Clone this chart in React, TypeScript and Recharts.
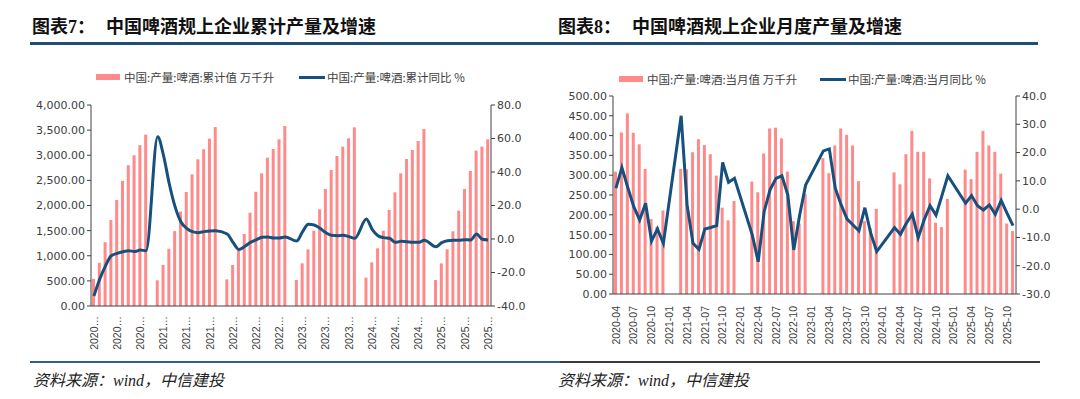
import { ComposedChart, Bar, Line, XAxis, YAxis } from "recharts";

// 累计：2020-03 ~ 2025-11
const cumMonths = [
  "2020-03", "2020-04", "2020-05", "2020-06", "2020-07", "2020-08", "2020-09", "2020-10", "2020-11", "2020-12",
  "2021-01", "2021-02", "2021-03", "2021-04", "2021-05", "2021-06", "2021-07", "2021-08", "2021-09", "2021-10", "2021-11", "2021-12",
  "2022-01", "2022-02", "2022-03", "2022-04", "2022-05", "2022-06", "2022-07", "2022-08", "2022-09", "2022-10", "2022-11", "2022-12",
  "2023-01", "2023-02", "2023-03", "2023-04", "2023-05", "2023-06", "2023-07", "2023-08", "2023-09", "2023-10", "2023-11", "2023-12",
  "2024-01", "2024-02", "2024-03", "2024-04", "2024-05", "2024-06", "2024-07", "2024-08", "2024-09", "2024-10", "2024-11", "2024-12",
  "2025-01", "2025-02", "2025-03", "2025-04", "2025-05", "2025-06", "2025-07", "2025-08", "2025-09", "2025-10", "2025-11",
];

const cumValue = [
  540, 860, 1270, 1710, 2110, 2490, 2800, 3000, 3200, 3410,
  null, 510, 820, 1140, 1490, 1880, 2270, 2620, 2920, 3120, 3330, 3560,
  null, 530, 816, 1120, 1433, 1857, 2275, 2640, 2952, 3124, 3317, 3582,
  null, 517, 849, 1128, 1499, 1924, 2328, 2706, 2985, 3171, 3337, 3555,
  null, 564, 869, 1148, 1499, 1910, 2262, 2640, 2925, 3104, 3283, 3522,
  null, 517, 849, 1128, 1486, 1897, 2328, 2687, 3091, 3171, 3317,
];

const cumYoy = [
  -34, -24, -16, -10, -8.6, -7.6, -7.0, -7.5, -6.6, -7.0,
  null, 61.1, 50, 33, 19.3, 10.3, 6.4, 4.4, 3.8, 4.4, 4.8, 5.0,
  null, 3.0, -2.0, -6.2, -4.5, -2.0, -0.5, 1.0, 1.2, 0.6, 0.6, 1.2,
  null, -1.2, 4.4, 8.8, 8.4, 6.4, 3.8, 2.2, 2.0, 2.2, 1.4, 0.4,
  null, 11.9, 5.8, 2.0, 0.8, 0.4, -2.0, -1.4, -1.6, -2.0, -2.0, -0.8,
  null, -4.6, -2.2, -1.0, -0.8, -0.8, -0.4, -0.6, 3.0, -0.2, -0.6,
];

// 当月：2020-04 ~ 2025-11
const monMonths = [
  "2020-04", "2020-05", "2020-06", "2020-07", "2020-08", "2020-09", "2020-10", "2020-11", "2020-12",
  "2021-01", "2021-02", "2021-03", "2021-04", "2021-05", "2021-06", "2021-07", "2021-08", "2021-09", "2021-10", "2021-11", "2021-12",
  "2022-01", "2022-02", "2022-03", "2022-04", "2022-05", "2022-06", "2022-07", "2022-08", "2022-09", "2022-10", "2022-11", "2022-12",
  "2023-01", "2023-02", "2023-03", "2023-04", "2023-05", "2023-06", "2023-07", "2023-08", "2023-09", "2023-10", "2023-11", "2023-12",
  "2024-01", "2024-02", "2024-03", "2024-04", "2024-05", "2024-06", "2024-07", "2024-08", "2024-09", "2024-10", "2024-11", "2024-12",
  "2025-01", "2025-02", "2025-03", "2025-04", "2025-05", "2025-06", "2025-07", "2025-08", "2025-09", "2025-10", "2025-11",
];

const monValue = [
  309, 408, 456, 407, 378, 316, 189, 170, 211,
  null, null, 316, 315, 358, 391, 376, 353, 299, 218, 186, 235,
  null, null, 284, 257, 355, 418, 420, 393, 309, 184, 178, 253,
  null, null, 343, 305, 375, 418, 402, 375, 285, 184, 166, 215,
  null, null, 307, 277, 353, 412, 359, 359, 292, 180, 169, 240,
  null, null, 314, 290, 359, 412, 375, 359, 304, 178, 159,
];

const monYoy = [
  7.4, 14.7, 7.6, 0.9, -3.8, 2.1, -11.3, -7.0, -12.1,
  null, null, 33.0, 1.5, -12.1, -14.2, -7.0, -6.5, -5.8, 16.5, 9.5, 10.9,
  null, null, -9.1, -18.6, -0.9, 6.8, 10.9, 11.8, 5.0, -14.4, -2.1, 8.5,
  null, null, 20.6, 21.3, 7.4, 1.5, -3.5, -5.6, -7.7, 0.5, -8.6, -15.0,
  null, null, -6.5, -8.9, -5.0, -1.8, -10.1, -3.8, 1.2, -2.1, 4.8, 11.8,
  null, null, 2.1, 4.8, 1.2, -0.3, 1.5, -1.8, 3.1, -1.5, -5.8,
];

const cumTicksL = [0, 500, 1000, 1500, 2000, 2500, 3000, 3500, 4000];
const cumTicksR = [-40, -20, 0, 20, 40, 60, 80];
const monTicksL = [0, 50, 100, 150, 200, 250, 300, 350, 400, 450, 500];
const monTicksR = [-30, -20, -10, 0, 10, 20, 30, 40];

const BAR = "#FF8A8A";
const LINE = "#15507E";
const AXIS = "#404040";
const TXT = "#404040";
const FONT = "'DejaVu Sans', 'Noto Sans CJK SC', sans-serif";
const XFONT = "'Liberation Sans', Arial, sans-serif";
const CJK = "'Noto Sans CJK SC', sans-serif";

const fmt2 = (v: number) =>
  v.toLocaleString("en-US", { minimumFractionDigits: 2, maximumFractionDigits: 2 });
const fmt1 = (v: number) => v.toFixed(1);

const tickStyle = { fill: TXT, fontSize: 11, fontFamily: FONT };

function RotTick(props: any, short: boolean) {
  const { x, y, payload } = props;
  const label = short ? payload.value.slice(0, 4) + "…" : payload.value;
  return (
    <text
      x={x}
      y={y}
      transform={`rotate(-90 ${x} ${y})`}
      textAnchor="end"
      dy="0.35em"
      fill={TXT}
      fontSize={10.5}
      fontFamily={XFONT}
    >
      {label}
    </text>
  );
}

function Title({ left, num, text }: { left: number; num: string; text: string }) {
  return (
    <div style={{ position: "absolute", left, top: 15, height: 20, fontFamily: CJK, fontWeight: 700, fontSize: 18, lineHeight: "20px", color: "#111", whiteSpace: "nowrap" }}>
      <span>图表</span>
      <span style={{ fontFamily: "'Liberation Serif', serif" }}>{num}</span>
      <span>：</span>
      <span style={{ position: "absolute", left: 74 }}>{text}</span>
    </div>
  );
}

function LegendRow({ left, top, barText, lineText, lineLeft }: { left: number; top: number; barText: string; lineText: string; lineLeft: number }) {
  const textStyle = { position: "absolute" as const, top: top - 8, fontSize: 11.5, lineHeight: "16px", fontFamily: CJK, color: TXT, whiteSpace: "nowrap" as const };
  return (
    <>
      <div style={{ position: "absolute", left, top: top - 3, width: 24, height: 6, background: BAR }} />
      <div style={{ ...textStyle, left: left + 28 }}>{barText}</div>
      <div style={{ position: "absolute", left: lineLeft, top: top - 1.5, width: 26, height: 3, background: LINE }} />
      <div style={{ ...textStyle, left: lineLeft + 28 }}>{lineText}</div>
    </>
  );
}

export default function App() {
  const cumData = cumMonths.map((m, i) => ({ month: m, value: cumValue[i], yoy: cumYoy[i] }));
  const monData = monMonths.map((m, i) => ({ month: m, value: monValue[i], yoy: monYoy[i] }));

  return (
    <div style={{ position: "absolute", left: 0, top: 0, width: 1080, height: 399, background: "#fff", overflow: "hidden" }}>
      <Title left={32} num="7" text="中国啤酒规上企业累计产量及增速" />
      <Title left={558} num="8" text="中国啤酒规上企业月度产量及增速" />
      <div style={{ position: "absolute", left: 30, top: 41.5, width: 1008, height: 3, background: "#1F4E79" }} />

      <LegendRow left={96} top={77} barText="中国:产量:啤酒:累计值 万千升" lineLeft={299} lineText="中国:产量:啤酒:累计同比 %" />
      <LegendRow left={619} top={79} barText="中国:产量:啤酒:当月值 万千升" lineLeft={820} lineText="中国:产量:啤酒:当月同比 %" />

      <div style={{ position: "absolute", left: 0, top: 0 }}>
        <ComposedChart width={540} height={360} data={cumData} margin={{ top: 105, right: 4, bottom: 0, left: 0 }}>
          <XAxis dataKey="month" interval={3} height={54} tickLine={false} tickMargin={4} axisLine={{ stroke: AXIS }} tick={(p: any) => RotTick(p, true)} />
          <YAxis yAxisId="l" width={91} domain={[0, 4000]} ticks={cumTicksL} tickFormatter={fmt2} tickSize={4} tickMargin={2} axisLine={{ stroke: AXIS }} tickLine={{ stroke: AXIS }} tick={tickStyle} />
          <YAxis yAxisId="r" orientation="right" width={45} domain={[-40, 80]} ticks={cumTicksR} tickFormatter={fmt1} tickSize={4} tickMargin={2} axisLine={{ stroke: AXIS }} tickLine={{ stroke: AXIS }} tick={tickStyle} />
          <Bar yAxisId="l" dataKey="value" fill={BAR} barSize={3} isAnimationActive={false} />
          <Line yAxisId="r" dataKey="yoy" type="monotone" stroke={LINE} strokeWidth={3} dot={false} connectNulls isAnimationActive={false} />
        </ComposedChart>
      </div>

      <div style={{ position: "absolute", left: 540, top: 0 }}>
        <ComposedChart width={540} height={352} data={monData} margin={{ top: 96, right: 19, bottom: 0, left: 1 }}>
          <XAxis dataKey="month" interval={2} height={58} tickLine={false} tickMargin={6} axisLine={{ stroke: AXIS }} tick={(p: any) => RotTick(p, false)} />
          <YAxis yAxisId="l" width={72} domain={[0, 500]} ticks={monTicksL} tickFormatter={fmt2} tickSize={4} tickMargin={2} axisLine={{ stroke: AXIS }} tickLine={{ stroke: AXIS }} tick={tickStyle} />
          <YAxis yAxisId="r" orientation="right" width={45} domain={[-30, 40]} ticks={monTicksR} tickFormatter={fmt1} tickSize={4} tickMargin={2} axisLine={{ stroke: AXIS }} tickLine={{ stroke: AXIS }} tick={tickStyle} />
          <Bar yAxisId="l" dataKey="value" fill={BAR} barSize={3} isAnimationActive={false} />
          <Line yAxisId="r" dataKey="yoy" type="linear" stroke={LINE} strokeWidth={3} dot={false} connectNulls isAnimationActive={false} />
        </ComposedChart>
      </div>

      <div style={{ position: "absolute", left: 30, top: 361, width: 530, height: 2, background: "#2E5F8E" }} />
      <div style={{ position: "absolute", left: 560, top: 361, width: 480, height: 2, background: "#3A3A3A" }} />
      <div style={{ position: "absolute", left: 33, top: 371, fontSize: 16, lineHeight: "20px", fontStyle: "italic", fontFamily: "'Liberation Serif', 'Noto Sans CJK SC', serif", color: "#222" }}>资料来源：wind，中信建投</div>
      <div style={{ position: "absolute", left: 558, top: 371, fontSize: 16, lineHeight: "20px", fontStyle: "italic", fontFamily: "'Liberation Serif', 'Noto Sans CJK SC', serif", color: "#222" }}>资料来源：wind，中信建投</div>
    </div>
  );
}
